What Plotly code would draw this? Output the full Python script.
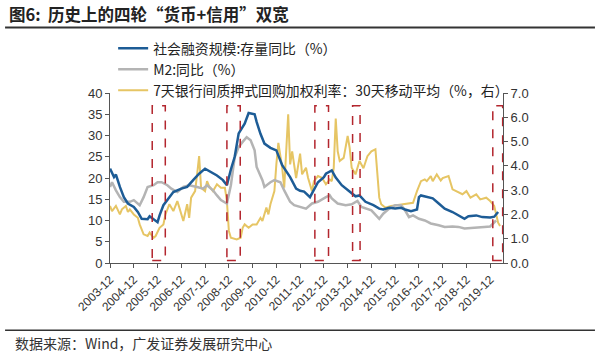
import plotly.graph_objects as go

# ---------------- data ----------------
sf_dates = ["2003-12","2004-01","2004-02","2004-03","2004-04","2004-05","2004-07","2004-09","2004-12",
            "2005-02","2005-04","2005-07","2005-08","2005-10","2005-12","2006-01","2006-03","2006-06",
            "2006-08","2006-12","2007-03","2007-06","2007-09","2007-12","2008-03","2008-06","2008-09",
            "2008-11","2009-01","2009-03","2009-05","2009-08","2009-10","2010-01","2010-02","2010-04",
            "2010-06","2010-09","2010-12","2011-03","2011-07","2011-10","2011-12","2012-02","2012-05",
            "2012-07","2012-09","2012-12","2013-01","2013-04","2013-06","2013-09","2014-01","2014-04",
            "2014-06","2014-09","2015-01","2015-04","2015-06","2015-09","2015-12","2016-03","2016-05",
            "2016-08","2016-11","2016-12","2017-01","2017-04","2017-07","2017-10","2018-01","2018-05",
            "2018-08","2018-11","2019-01","2019-05","2019-08","2019-12","2020-02","2020-04"]
sf_values = [22.2,21.0,20.2,20.8,19.0,17.9,15.5,14.0,13.2,
             12.0,10.4,10.3,11.0,10.4,9.6,11.2,13.6,15.5,
             16.7,17.5,17.9,19.5,21.0,22.2,21.4,20.6,19.5,
             18.3,22.0,25.0,30.5,32.8,35.3,35.0,33.2,30.4,
             28.1,27.1,26.5,23.0,20.2,17.5,17.0,16.8,15.5,
             17.1,19.0,20.2,21.0,21.8,20.1,18.3,16.7,15.7,
             15.9,14.4,13.6,12.8,12.6,13.0,12.8,13.0,12.6,
             12.2,12.6,15.5,15.9,15.5,15.2,14.0,12.8,12.0,
             11.2,10.4,11.0,11.2,10.8,10.7,10.9,12.0]

m2_dates = ["2003-12","2004-01","2004-03","2004-05","2004-07","2004-10","2004-12","2005-03","2005-05",
            "2005-07","2005-10","2005-12","2006-02","2006-05","2006-07","2006-10","2007-01","2007-04",
            "2007-08","2007-11","2008-01","2008-04","2008-06","2008-08","2008-11","2009-01","2009-03",
            "2009-05","2009-07","2009-09","2009-11","2010-01","2010-02","2010-05","2010-06","2010-09",
            "2010-11","2011-02","2011-04","2011-07","2011-09","2011-12","2012-03","2012-06","2012-09",
            "2013-01","2013-03","2013-04","2013-07","2013-11","2014-02","2014-05","2014-07","2014-12",
            "2015-04","2015-06","2015-09","2015-12","2016-03","2016-05","2016-07","2016-09","2016-12",
            "2017-03","2017-06","2017-10","2018-01","2018-05","2018-08","2018-11","2019-03","2019-06",
            "2019-09","2019-12","2020-03"]
m2_values = [17.9,19.0,17.1,15.5,14.4,14.4,14.8,13.6,15.5,
             17.9,18.3,19.0,19.0,18.3,17.5,16.7,17.9,18.3,
             17.9,17.5,18.3,17.1,15.9,14.8,14.0,18.3,24.9,
             27.3,28.5,29.6,28.9,26.5,22.6,19.5,17.9,19.0,
             19.5,19.0,17.1,14.4,13.6,13.2,12.8,14.0,14.4,
             15.5,15.9,15.2,14.0,13.6,13.8,14.6,13.2,12.4,
             10.4,11.6,12.8,13.6,13.6,12.4,10.8,11.2,10.4,
             10.0,9.3,8.9,8.5,8.6,8.5,8.1,8.3,8.5,
             8.5,8.6,10.0]

repo_dates = ["2003-12","2004-01","2004-03","2004-05","2004-06","2004-08","2004-09","2004-10","2004-12",
              "2005-02","2005-03","2005-05","2005-07","2005-08","2005-10","2005-11","2006-01","2006-03",
              "2006-04","2006-06","2006-08","2006-10","2006-11","2007-01","2007-03","2007-04","2007-05",
              "2007-07","2007-08","2007-09","2007-10","2007-12","2008-01","2008-02","2008-04","2008-06",
              "2008-08","2008-10","2008-11","2008-12","2009-01","2009-04","2009-06","2009-07","2009-08",
              "2009-10","2009-12","2010-02","2010-04","2010-05","2010-07","2010-08","2010-09","2010-11",
              "2010-12","2011-01","2011-03","2011-04","2011-06","2011-07","2011-08","2011-10","2011-12",
              "2012-01","2012-03","2012-04","2012-06","2012-07","2012-09","2012-11","2013-01","2013-03",
              "2013-04","2013-05","2013-06","2013-07","2013-08","2013-10","2013-12","2014-01","2014-02",
              "2014-04","2014-06","2014-08","2014-10","2014-12","2015-02","2015-04","2015-05","2015-07",
              "2015-10","2016-02","2016-05","2016-09","2016-11","2017-01","2017-03","2017-04","2017-06",
              "2017-07","2017-09","2017-11","2017-12","2018-03","2018-05","2018-07","2018-10","2018-12",
              "2019-02","2019-05","2019-07","2019-10","2019-12","2020-02","2020-04","2020-05"]
repo_values = [2.35,2.14,2.35,2.0,2.21,2.35,2.1,2.21,2.0,
               1.86,1.59,1.18,1.11,1.25,1.04,1.11,1.45,1.59,
               2.0,2.42,2.14,2.55,2.28,1.73,2.42,1.86,2.69,
               2.96,3.65,4.4,3.1,2.96,3.37,3.17,2.96,3.24,
               3.1,3.1,2.55,1.32,1.04,0.97,1.04,1.45,1.59,
               1.45,1.59,1.59,1.86,1.73,2.28,2.0,2.42,2.96,
               4.06,4.95,3.92,3.1,6.12,4.06,4.6,3.5,4.5,
               3.65,3.92,3.51,2.96,3.37,3.58,3.51,3.24,3.44,
               3.37,3.92,5.95,4.6,4.2,4.33,5.23,4.74,3.92,
               3.65,4.2,3.9,4.4,4.6,4.68,2.69,2.42,2.28,
               2.35,2.4,2.42,2.48,2.96,3.37,3.44,3.37,3.58,
               3.37,3.65,3.4,3.5,3.58,3.03,2.96,2.83,2.96,
               2.69,2.83,2.62,2.69,2.55,2.35,1.66,1.52]

tick_dates = ["2003-12-01","2004-12-01","2005-12-01","2006-12-01","2007-12-01","2008-12-01",
              "2009-12-01","2010-12-01","2011-12-01","2012-12-01","2013-12-01","2014-12-01",
              "2015-12-01","2016-12-01","2017-12-01","2018-12-01","2019-12-01"]
tick_labels = ["2003-12","2004-12","2005-12","2006-12","2007-12","2008-12","2009-12","2010-12",
               "2011-12","2012-12","2013-12","2014-12","2015-12","2016-12","2017-12","2018-12","2019-12"]

# periods of "money + credit" double easing (dashed boxes)
box_starts = ["2005-09-10","2008-11-01","2012-07-15","2014-02-15","2020-01-10"]
box_ends   = ["2006-03-30","2009-05-25","2013-02-10","2014-06-10","2020-06-10"]
box_low, box_high = 0.6, 37.0

name_sf = "社会融资规模:存量同比（%）"
name_m2 = "M2:同比（%）"
name_repo = "7天银行间质押式回购加权利率：30天移动平均（%，右）"

# ---------------- figure ----------------
FONT = "Liberation Sans, Arial, Noto Sans CJK SC, sans-serif"
CJK = "Noto Sans CJK SC, Liberation Sans, sans-serif"

fig = go.Figure()
fig.add_trace(go.Scatter(x=repo_dates, y=repo_values, name=name_repo, mode="lines",
                         line=dict(color="#E6C564", width=2), yaxis="y", legendrank=3))
fig.add_trace(go.Scatter(x=m2_dates, y=m2_values, name=name_m2, mode="lines",
                         line=dict(color="#B4B4B4", width=2.5), yaxis="y2", legendrank=2))
fig.add_trace(go.Scatter(x=sf_dates, y=sf_values, name=name_sf, mode="lines",
                         line=dict(color="#1D5C96", width=2.5), yaxis="y2", legendrank=1))

shapes = []
for s, e in zip(box_starts, box_ends):
    shapes.append(dict(type="rect", xref="x", yref="y2", x0=s, x1=e, y0=box_low, y1=box_high,
                       line=dict(color="#B3262E", width=1.5, dash="dash"), layer="above"))
# decorative header / footer rules
shapes.append(dict(type="line", xref="paper", yref="paper", x0=-0.267, x1=1.234, y0=1.386, y1=1.386,
                   line=dict(color="#333333", width=2)))
shapes.append(dict(type="line", xref="paper", yref="paper", x0=-0.267, x1=1.234, y0=-0.396, y1=-0.396,
                   line=dict(color="#333333", width=1.5)))

axis_common = dict(showline=True, linecolor="#555555", linewidth=1, ticks="outside", ticklen=4,
                   tickcolor="#555555", showgrid=False, zeroline=False,
                   tickfont=dict(family=FONT, size=13, color="#333333"))

fig.update_layout(
    width=600, height=355,
    margin=dict(l=110, r=97, t=93, b=92),
    paper_bgcolor="white", plot_bgcolor="white",
    xaxis=dict(type="date", range=["2003-12-01", "2020-06-15"], tickvals=tick_dates, ticktext=tick_labels,
               tickangle=-45, **{**axis_common, "tickfont": dict(family=FONT, size=12, color="#333333")}),
    yaxis=dict(side="right", range=[0, 7], dtick=1, tickformat=".1f", **axis_common),
    yaxis2=dict(side="left", overlaying="y", range=[0, 40], dtick=5, **axis_common),
    legend=dict(x=0.008, y=1.355, xanchor="left", yanchor="top", bgcolor="rgba(0,0,0,0)",
                font=dict(family=CJK, size=13.9, color="#222222"), tracegroupgap=0),
    shapes=shapes,
    annotations=[
        dict(text="<b>图6:  历史上的四轮“货币+信用”双宽</b>", xref="paper", yref="paper", x=-0.262, y=1.465,
             xanchor="left", yanchor="middle", showarrow=False,
             font=dict(family=CJK, size=16.5, color="#222222")),
        dict(text="数据来源：Wind，广发证券发展研究中心", xref="paper", yref="paper", x=-0.247, y=-0.472,
             xanchor="left", yanchor="middle", showarrow=False,
             font=dict(family=CJK, size=14, color="#333333")),
    ],
)

# remove the default 8px page margin so the figure sits at the window's top-left corner
fig.write_html("out.html", config={"displayModeBar": False},
               post_script="document.body.style.margin='0px';document.body.style.overflow='hidden';")
